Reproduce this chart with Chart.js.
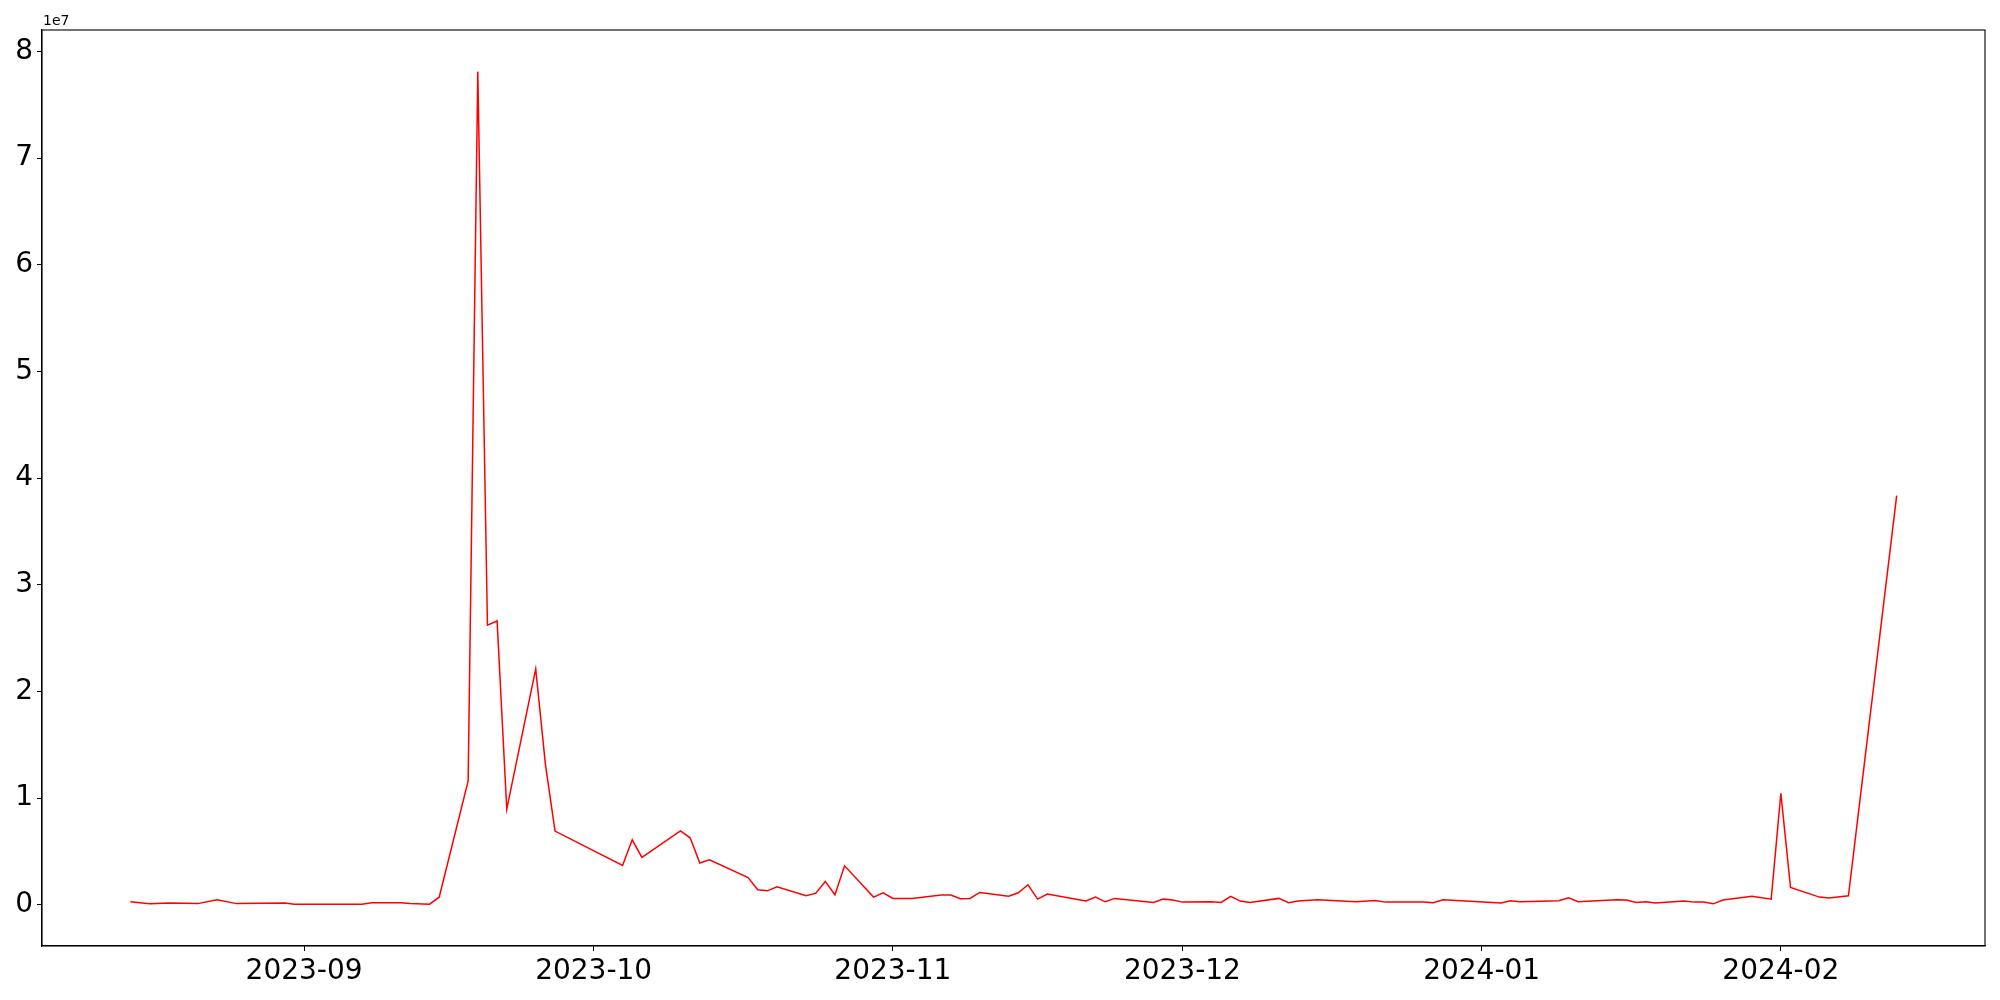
<!DOCTYPE html>
<html>
<head>
<meta charset="utf-8">
<script src="https://cdn.jsdelivr.net/npm/chart.js@4.4.1/dist/chart.umd.min.js"></script>
<style>
  html, body { margin: 0; padding: 0; background: #fff; }
  canvas { display: block; }
</style>
</head>
<body>
<canvas id="grafico" width="2000" height="1000"></canvas>
<script>
// trading days that show as corners of the line
const fechas = [
  "2023-08-14", "2023-08-16", "2023-08-18", "2023-08-21", "2023-08-23", "2023-08-25",
  "2023-08-30", "2023-08-31", "2023-09-05", "2023-09-07", "2023-09-08", "2023-09-11",
  "2023-09-12", "2023-09-14", "2023-09-15", "2023-09-18", "2023-09-19", "2023-09-20",
  "2023-09-21", "2023-09-22", "2023-09-25", "2023-09-26", "2023-09-27", "2023-10-04",
  "2023-10-05", "2023-10-06", "2023-10-10", "2023-10-11", "2023-10-12", "2023-10-13",
  "2023-10-17", "2023-10-18", "2023-10-19", "2023-10-20", "2023-10-23", "2023-10-24",
  "2023-10-25", "2023-10-26", "2023-10-27", "2023-10-30", "2023-10-31", "2023-11-01",
  "2023-11-03", "2023-11-06", "2023-11-07", "2023-11-08", "2023-11-09", "2023-11-10",
  "2023-11-13", "2023-11-14", "2023-11-15", "2023-11-16", "2023-11-17", "2023-11-21",
  "2023-11-22", "2023-11-23", "2023-11-24", "2023-11-28", "2023-11-29", "2023-11-30",
  "2023-12-01", "2023-12-04", "2023-12-05", "2023-12-06", "2023-12-07", "2023-12-08",
  "2023-12-11", "2023-12-12", "2023-12-13", "2023-12-15", "2023-12-19", "2023-12-21",
  "2023-12-22", "2023-12-26", "2023-12-27", "2023-12-28", "2024-01-03", "2024-01-04",
  "2024-01-05", "2024-01-09", "2024-01-10", "2024-01-11", "2024-01-15", "2024-01-16",
  "2024-01-17", "2024-01-18", "2024-01-19", "2024-01-22", "2024-01-23", "2024-01-24",
  "2024-01-25", "2024-01-26", "2024-01-29", "2024-01-31", "2024-02-01", "2024-02-02",
  "2024-02-05", "2024-02-06", "2024-02-08", "2024-02-13"
];

const valores = [
  270000, 80000, 150000, 100000, 460000, 100000,
  150000, 50000, 30000, 30000, 180000, 180000,
  100000, 50000, 700000, 11600000, 78100000, 26200000,
  26600000, 8950000, 22100000, 13200000, 6900000, 3680000,
  6080000, 4430000, 6920000, 6270000, 3900000, 4200000,
  2550000, 1400000, 1300000, 1680000, 830000, 1060000,
  2180000, 930000, 3640000, 710000, 1110000, 590000,
  590000, 900000, 900000, 550000, 590000, 1150000,
  800000, 1120000, 1870000, 520000, 990000, 340000,
  710000, 270000, 590000, 210000, 520000, 430000,
  240000, 270000, 210000, 780000, 340000, 210000,
  590000, 180000, 340000, 460000, 270000, 400000,
  240000, 240000, 180000, 460000, 150000, 370000,
  270000, 370000, 650000, 270000, 460000, 430000,
  210000, 270000, 150000, 340000, 240000, 240000,
  80000, 430000, 780000, 520000, 10450000, 1620000,
  710000, 620000, 830000, 38350000
];

// month ticks on the x axis
const etiquetasMes = ["2023-09", "2023-10", "2023-11", "2023-12", "2024-01", "2024-02"];
const ticksY = [0, 1e7, 2e7, 3e7, 4e7, 5e7, 6e7, 7e7, 8e7];

const DIA = 86400000;
const aDia = (s) => {
  const p = s.split("-").map(Number);
  return Date.UTC(p[0], p[1] - 1, p[2] || 1) / DIA;
};
const deDia = (d) => new Date(d * DIA).toISOString().slice(0, 7);

const puntos = fechas.map((f, i) => ({ x: aDia(f), y: valores[i] }));
const xs = puntos.map((p) => p.x);
const ys = valores;
const xMin = Math.min(...xs), xMax = Math.max(...xs);
const yMin = Math.min(...ys), yMax = Math.max(...ys);
const mx = (xMax - xMin) * 0.05;
const my = (yMax - yMin) * 0.05;

const fuente = "'DejaVu Sans', sans-serif";

// frame on all four sides + the "1e7" offset text
const marco = {
  id: "marco",
  afterDraw(chart) {
    const { ctx, chartArea: a } = chart;
    ctx.save();
    ctx.strokeStyle = "#000";
    ctx.lineWidth = 1.1;
    ctx.strokeRect(a.left, a.top, a.right - a.left, a.bottom - a.top);
    ctx.fillStyle = "#000";
    ctx.font = "14px " + fuente;
    ctx.textAlign = "left";
    ctx.textBaseline = "bottom";
    ctx.fillText("1e7", a.left + 1, a.top - 2);
    ctx.restore();
  },
};

const ctx = document.getElementById("grafico").getContext("2d");
new Chart(ctx, {
  type: "line",
  data: {
    datasets: [
      {
        data: puntos,
        borderColor: "red",
        backgroundColor: "transparent",
        borderWidth: 1.5,
        pointRadius: 0,
        tension: 0,
      },
    ],
  },
  options: {
    responsive: false,
    animation: false,
    devicePixelRatio: 1,
    layout: { padding: { left: 0, top: 30, right: 15, bottom: 0 } },
    plugins: { legend: { display: false }, tooltip: { enabled: false } },
    scales: {
      x: {
        type: "linear",
        min: xMin - mx,
        max: xMax + mx,
        afterBuildTicks: (s) => {
          s.ticks = etiquetasMes.map((m) => ({ value: aDia(m) }));
        },
        afterFit: (s) => { s.height = 54; },
        ticks: {
          callback: (v) => deDia(v),
          font: { family: fuente, size: 28 },
          color: "#000",
          padding: 4,
          maxRotation: 0,
          autoSkip: false,
        },
        grid: { drawOnChartArea: false, tickLength: 5, color: "#000", tickColor: "#000" },
        border: { color: "#000", width: 1.1 },
      },
      y: {
        type: "linear",
        min: yMin - my,
        max: yMax + my,
        afterBuildTicks: (s) => {
          s.ticks = ticksY.map((v) => ({ value: v }));
        },
        afterFit: (s) => { s.width = 42; },
        ticks: {
          callback: (v) => String(Math.round(v / 1e7)),
          font: { family: fuente, size: 28 },
          color: "#000",
          padding: 4,
        },
        grid: { drawOnChartArea: false, tickLength: 5, color: "#000", tickColor: "#000" },
        border: { color: "#000", width: 1.1 },
      },
    },
  },
  plugins: [marco],
});
</script>
</body>
</html>
